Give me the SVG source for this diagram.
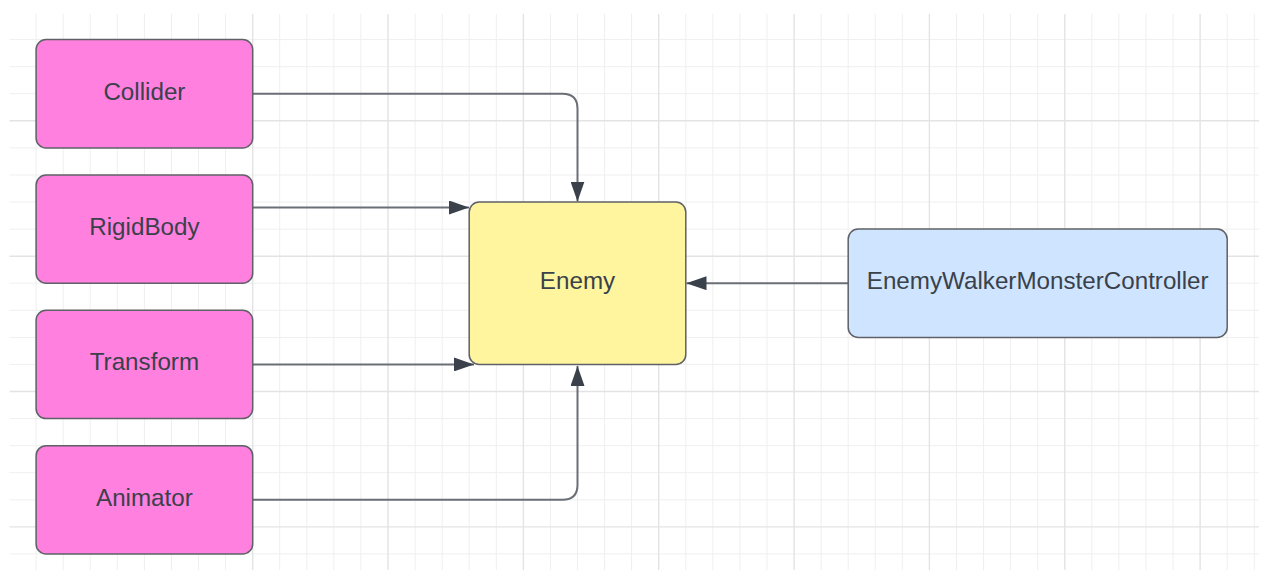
<svg xmlns="http://www.w3.org/2000/svg" width="1261" height="570" viewBox="0 0 1261 570">
  <defs>
    <style>
      .grid-minor { stroke: #efefef; stroke-width: 1; fill: none; }
      .grid-major { stroke: #e3e3e3; stroke-width: 1.4; fill: none; }
      .node rect { stroke: #5f6167; stroke-width: 1.5; }
      .pink rect { fill: #ff80df; }
      .yellow rect { fill: #fff59f; }
      .blue rect { fill: #cfe4ff; }
      .node text { font-family: "Liberation Sans", Arial, sans-serif; font-size: 24.2px; fill: #3a414a; text-anchor: middle; }
      .edge { stroke: #6a6e75; stroke-width: 2; fill: none; }
    </style>
    <marker id="arrow" viewBox="0 0 20 14" refX="20" refY="7" markerWidth="20" markerHeight="14" markerUnits="userSpaceOnUse" orient="auto">
      <path d="M0,0 L20,7 L0,14 Z" fill="#3a414a"/>
    </marker>
  </defs>

  <rect x="0" y="0" width="1261" height="570" fill="#ffffff"/>

  <!-- background grid: 27.07px cells, heavier line every 5 cells -->
  <g id="grid">
    <path class="grid-minor" d="
      M36.1,14V570 M63.2,14V570 M90.2,14V570 M117.3,14V570 M144.4,14V570 M171.5,14V570 M198.5,14V570 M225.6,14V570
      M279.7,14V570 M306.8,14V570 M333.9,14V570 M360.9,14V570
      M415.1,14V570 M442.2,14V570 M469.2,14V570 M496.3,14V570
      M550.4,14V570 M577.5,14V570 M604.6,14V570 M631.6,14V570
      M685.8,14V570 M712.9,14V570 M739.9,14V570 M767,14V570
      M821.1,14V570 M848.2,14V570 M875.3,14V570 M902.3,14V570
      M956.5,14V570 M983.6,14V570 M1010.6,14V570 M1037.7,14V570
      M1091.8,14V570 M1118.9,14V570 M1146,14V570 M1173,14V570
      M1227.2,14V570 M1254.3,14V570
      M9.5,39.6H1259 M9.5,66.7H1259 M9.5,93.7H1259
      M9.5,147.9H1259 M9.5,175H1259 M9.5,202H1259 M9.5,229.1H1259
      M9.5,283.2H1259 M9.5,310.3H1259 M9.5,337.4H1259 M9.5,364.4H1259
      M9.5,418.6H1259 M9.5,445.7H1259 M9.5,472.7H1259 M9.5,499.8H1259
      M9.5,553.9H1259"/>
    <path class="grid-major" d="
      M252.7,14V570 M388,14V570 M523.4,14V570 M658.7,14V570 M794.1,14V570 M929.4,14V570 M1064.8,14V570 M1200.1,14V570
      M9.5,120.8H1259 M9.5,256.2H1259 M9.5,391.5H1259 M9.5,526.9H1259"/>
  </g>

  <!-- connectors -->
  <g id="connectors">
    <path class="edge" marker-end="url(#arrow)" d="M252.7,93.7 H562.5 Q577.5,93.7 577.5,108.7 V201.5"/>
    <path class="edge" marker-end="url(#arrow)" d="M252.7,207.5 H469"/>
    <path class="edge" marker-end="url(#arrow)" d="M252.7,364.4 H474"/>
    <path class="edge" marker-end="url(#arrow)" d="M252.7,499.8 H562.5 Q577.5,499.8 577.5,484.8 V366"/>
    <path class="edge" marker-end="url(#arrow)" d="M848.2,283.2 H686.5"/>
  </g>

  <!-- component nodes -->
  <g id="collider" class="node pink">
    <rect x="36.1" y="39.6" width="216.6" height="108.3" rx="10"/>
    <text x="144.4" y="99.8">Collider</text>
  </g>
  <g id="rigidbody" class="node pink">
    <rect x="36.1" y="175" width="216.6" height="108.2" rx="10"/>
    <text x="144.4" y="235.2">RigidBody</text>
  </g>
  <g id="transform" class="node pink">
    <rect x="36.1" y="310.3" width="216.6" height="108.3" rx="10"/>
    <text x="144.4" y="370.4">Transform</text>
  </g>
  <g id="animator" class="node pink">
    <rect x="36.1" y="445.7" width="216.6" height="108.2" rx="10"/>
    <text x="144.4" y="505.8">Animator</text>
  </g>

  <!-- entity -->
  <g id="enemy" class="node yellow">
    <rect x="469.2" y="202" width="216.6" height="162.4" rx="10"/>
    <text x="577.5" y="289.4">Enemy</text>
  </g>

  <!-- controller -->
  <g id="enemy-walker-monster-controller" class="node blue">
    <rect x="848.2" y="229.1" width="379" height="108.3" rx="10"/>
    <text x="1037.7" y="289.4">EnemyWalkerMonsterController</text>
  </g>
</svg>
